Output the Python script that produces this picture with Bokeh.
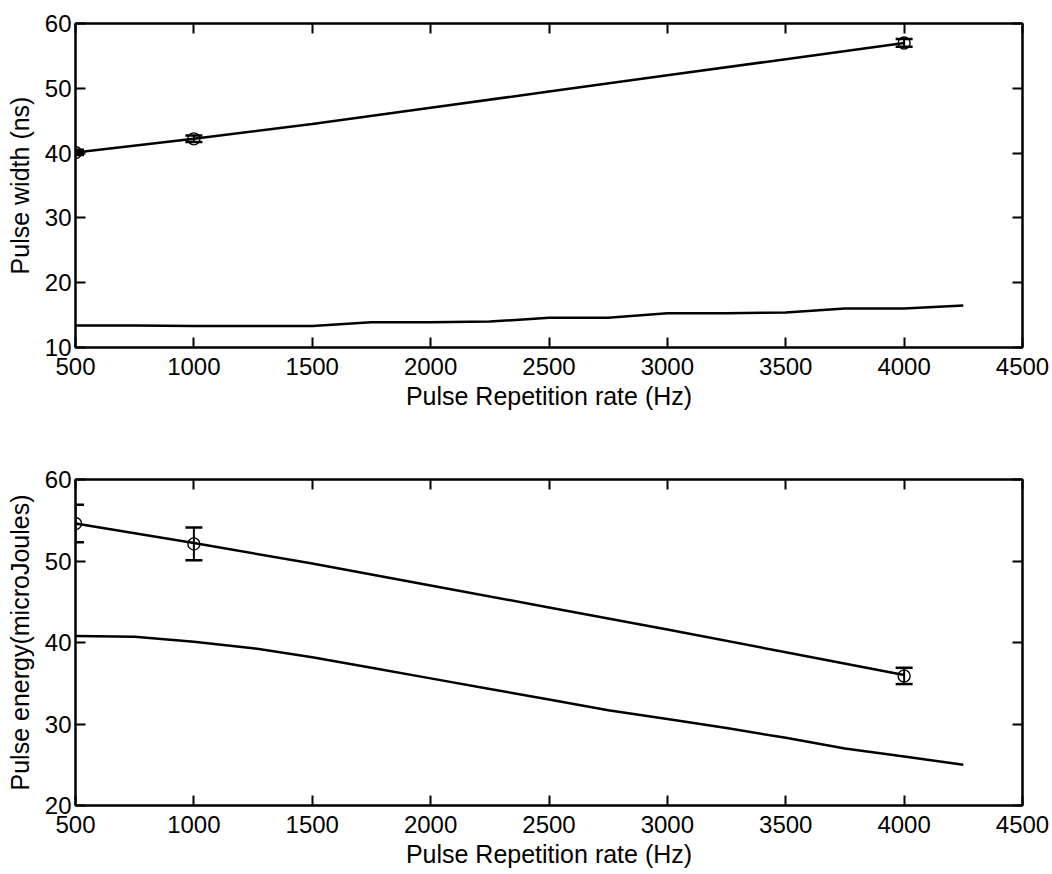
from bokeh.plotting import figure
from bokeh.models import (LinearAxis, Whisker, ColumnDataSource, TeeHead, Range1d,
                          FixedTicker, CustomJSTickFormatter)
from bokeh.layouts import column
from bokeh.embed import file_html
from bokeh.resources import INLINE

FONT = "Liberation Sans"

rate_ticks = [500, 1000, 1500, 2000, 2500, 3000, 3500, 4000, 4500]

# Top panel: pulse width (ns)
width_ticks = [10, 20, 30, 40, 50, 60]
width_meas_rate = [500, 1000, 4000]
width_meas = [40.1, 42.2, 57.0]
width_err = [0.4, 0.5, 0.6]
width_fit_rate = [500, 1000, 1500, 2000, 2500, 3000, 3500, 4000]
width_fit = [40.1, 42.2, 44.5, 47.0, 49.5, 52.0, 54.5, 57.0]
width_model_rate = [500, 750, 1000, 1250, 1500, 1750, 2000, 2250, 2500, 2750,
                    3000, 3250, 3500, 3750, 4000, 4250]
width_model = [13.4, 13.4, 13.3, 13.3, 13.3, 13.9, 13.9, 14.0, 14.6, 14.6,
               15.3, 15.3, 15.4, 16.0, 16.0, 16.5]

# Bottom panel: pulse energy (microJoules)
energy_ticks = [20, 30, 40, 50, 60]
energy_meas_rate = [500, 1000, 4000]
energy_meas = [54.6, 52.1, 35.9]
energy_err = [2.3, 2.0, 1.0]
energy_fit_rate = [500, 1000, 1500, 2000, 2500, 3000, 3500, 4000]
energy_fit = [54.6, 52.2, 49.7, 47.0, 44.3, 41.6, 38.8, 36.0]
energy_model_rate = [500, 750, 1000, 1250, 1500, 1750, 2000, 2250, 2500, 2750,
                     3000, 3250, 3500, 3750, 4000, 4250]
energy_model = [40.8, 40.7, 40.1, 39.3, 38.2, 36.9, 35.6, 34.3, 33.0, 31.7,
                30.6, 29.5, 28.3, 27.0, 26.0, 25.0]

XLABEL = "Pulse Repetition rate (Hz)"


def style_axis(ax, labels=True):
    ax.axis_line_width = 2
    ax.axis_line_color = "black"
    ax.major_tick_line_width = 2
    ax.major_tick_line_color = "black"
    ax.major_tick_in = 10
    ax.major_tick_out = 0
    ax.minor_tick_line_color = None
    ax.major_label_text_font = FONT
    ax.major_label_text_color = "black"
    ax.axis_label_text_font = FONT
    ax.axis_label_text_color = "black"
    ax.axis_label_text_font_style = "normal"
    if labels:
        ax.major_label_text_font_size = "24px"
        ax.axis_label_text_font_size = "25px"
    else:
        ax.major_label_text_font_size = "0px"
        ax.major_label_standoff = 0
        ax.formatter = CustomJSTickFormatter(code="return ''")


def panel(height, ymin, ymax, yticks, ylabel, meas_x, meas_y, meas_e,
          fit_x, fit_y, mod_x, mod_y, top, bottom):
    p = figure(width=1052, height=height, output_backend="svg", toolbar_location=None,
               x_range=Range1d(500, 4500), y_range=Range1d(ymin, ymax),
               min_border_left=75, min_border_right=30,
               min_border_top=top, min_border_bottom=bottom,
               background_fill_color="white", border_fill_color="white")
    p.grid.visible = False
    p.outline_line_color = "black"
    p.outline_line_width = 2

    p.xaxis.ticker = FixedTicker(ticks=rate_ticks)
    p.yaxis.ticker = FixedTicker(ticks=yticks)
    p.xaxis.axis_label = XLABEL
    p.yaxis.axis_label = ylabel
    for ax in p.xaxis + p.yaxis:
        style_axis(ax)
    p.xaxis.major_label_standoff = 10
    p.xaxis.axis_label_standoff = 4
    p.yaxis.major_label_standoff = 4
    p.yaxis.axis_label_standoff = 8

    ax_top = LinearAxis(ticker=FixedTicker(ticks=rate_ticks))
    ax_right = LinearAxis(ticker=FixedTicker(ticks=yticks))
    style_axis(ax_top, labels=False)
    style_axis(ax_right, labels=False)
    p.add_layout(ax_top, "above")
    p.add_layout(ax_right, "right")

    p.line(fit_x, fit_y, line_width=2.5, color="black")
    p.line(mod_x, mod_y, line_width=2.5, color="black")

    src = ColumnDataSource(dict(x=meas_x, y=meas_y,
                                upper=[a + b for a, b in zip(meas_y, meas_e)],
                                lower=[a - b for a, b in zip(meas_y, meas_e)]))
    w = Whisker(source=src, base="x", upper="upper", lower="lower",
                line_width=2, line_color="black",
                upper_head=TeeHead(size=17, line_width=2.5, line_color="black"),
                lower_head=TeeHead(size=17, line_width=2.5, line_color="black"))
    p.add_layout(w)
    p.scatter("x", "y", source=src, marker="circle", size=12,
              fill_color=None, line_color="black", line_width=1.4)
    return p


p1 = panel(437, 10, 60, width_ticks, "Pulse width (ns)",
           width_meas_rate, width_meas, width_err,
           width_fit_rate, width_fit, width_model_rate, width_model, 23, 90)
p2 = panel(437, 20, 60, energy_ticks, "Pulse energy(microJoules)",
           energy_meas_rate, energy_meas, energy_err,
           energy_fit_rate, energy_fit, energy_model_rate, energy_model, 42, 69)

layout = column(p1, p2, spacing=0)
open("out.html", "w").write(file_html(layout, INLINE))
